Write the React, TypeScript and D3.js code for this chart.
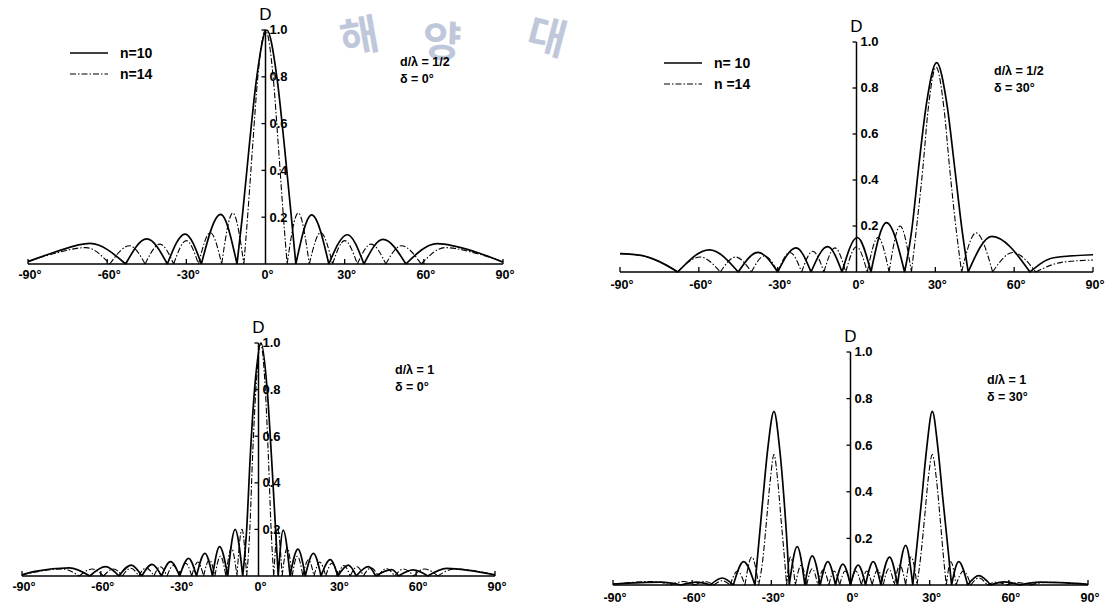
import React from "react";
import * as d3 from "d3";

type P = [number, number];

const angleTicks = [-90, -60, -30, 0, 30, 60, 90];
const dTicks = [0.2, 0.4, 0.6, 0.8, 1.0];
const legendNamesLeft = ["n=10", "n=14"];
const legendNamesRight = ["n= 10", "n =14"];

// Panel 1: d/λ = 1/2, δ = 0°
const tlN10: P[] = [
  [-90, 0.01], [-80, 0.05], [-66.5, 0.088], [-53, 0], [-45, 0.107], [-37.2, 0], [-30.5, 0.128], [-24.3, 0],
  [-17, 0.212], [-10.8, 0],
  [-8.8, 0.2], [-6.2, 0.5], [-3.3, 0.8], [0.5, 1.0], [4.3, 0.8], [7.2, 0.5], [9.8, 0.2], [11.5, 0],
  [17.5, 0.21], [24, 0], [31, 0.125], [37.3, 0], [44.5, 0.105], [53.2, 0], [65, 0.087], [80, 0.05], [90, 0.008],
];
const tlN14: P[] = [
  [-90, 0.01], [-80, 0.045], [-68, 0.07], [-59, 0], [-51.5, 0.078], [-45.6, 0], [-40, 0.085], [-34.8, 0],
  [-30, 0.1], [-25.4, 0], [-20.9, 0.134], [-16.6, 0], [-12.4, 0.218], [-8.2, 0],
  [-6.8, 0.2], [-4.9, 0.5], [-2.9, 0.8], [0, 1.0], [2.9, 0.8], [4.9, 0.5], [6.8, 0.2], [8.2, 0],
  [12.4, 0.218], [16.6, 0], [20.9, 0.134], [25.4, 0], [30, 0.1], [34.8, 0], [40, 0.085], [45.6, 0],
  [51.5, 0.078], [59, 0], [68, 0.07], [80, 0.045], [90, 0.01],
];

// Panel 2: d/λ = 1/2, δ = 30°
const trN10: P[] = [
  [-90, 0.08], [-82, 0.072], [-75, 0.045], [-68, 0], [-56, 0.096], [-45, 0], [-37.5, 0.085], [-30, 0],
  [-23, 0.105], [-17.3, 0], [-11, 0.11], [-5.5, 0], [0.3, 0.15], [5.5, 0], [11.4, 0.215], [18.3, 0],
  [21, 0.18], [23.6, 0.45], [26.6, 0.73], [30.5, 0.91], [34.4, 0.73], [37.4, 0.45], [40.2, 0.18], [42.5, 0],
  [51.5, 0.155], [66, 0], [75, 0.062], [90, 0.075],
];
const trN14: P[] = [
  [-90, 0.08], [-82, 0.072], [-75, 0.045], [-68.2, 0], [-59.5, 0.065], [-51.8, 0], [-46, 0.065], [-40, 0],
  [-35, 0.07], [-30, 0], [-25.3, 0.085], [-20.9, 0], [-16.6, 0.09], [-12.4, 0], [-8.2, 0.105], [-4.1, 0],
  [0, 0.11], [4.1, 0], [8.2, 0.15], [12.4, 0], [16.6, 0.2], [20.9, 0],
  [22.7, 0.178], [25.2, 0.445], [27.3, 0.71], [30.3, 0.89], [33.3, 0.71], [35.5, 0.445], [38, 0.178], [40, 0],
  [45.5, 0.17], [51.8, 0], [59.5, 0.085], [68.2, 0], [78, 0.042], [90, 0.052],
];

// Panel 3: d/λ = 1, δ = 0°
const blN10: P[] = [
  [-90, 0.005], [-85, 0.02], [-72, 0.035], [-64.2, 0], [-58.2, 0.04], [-53.1, 0], [-48.4, 0.047], [-44.4, 0],
  [-40.5, 0.05], [-36.9, 0], [-33.5, 0.062], [-30, 0], [-26.6, 0.076], [-23.6, 0], [-20.4, 0.097], [-17.5, 0],
  [-14.8, 0.126], [-11.7, 0], [-8.9, 0.2], [-6, 0],
  [-4.5, 0.2], [-3.2, 0.5], [-1.5, 0.8], [1, 1.0], [3.3, 0.8], [5, 0.5], [6.5, 0.2], [7.5, 0],
  [9.4, 0.197], [12, 0], [15, 0.115], [17.8, 0], [20.9, 0.097], [23.8, 0], [27.3, 0.07], [30.2, 0],
  [34.2, 0.047], [37.2, 0], [41.8, 0.04], [44.6, 0], [50.7, 0.027], [53.3, 0], [58.9, 0.026], [64.4, 0],
  [71.6, 0.033], [90, 0.005],
];
const blN14: P[] = [
  [-90, 0.005], [-74.6, 0.03], [-68.2, 0], [-63.2, 0.03], [-59, 0], [-55.2, 0.03], [-51.8, 0], [-48.6, 0.033],
  [-45.6, 0], [-42.8, 0.035], [-39.8, 0], [-37.4, 0.04], [-34.8, 0], [-32.4, 0.045], [-30, 0], [-27.7, 0.055],
  [-25.4, 0], [-23.1, 0.06], [-20.9, 0], [-18.7, 0.07], [-16.6, 0], [-14.5, 0.085], [-12.4, 0], [-10.3, 0.12],
  [-8.2, 0], [-6.3, 0.2], [-4.5, 0],
  [-3.3, 0.2], [-2.3, 0.5], [-1, 0.8], [0.8, 1.0], [2.6, 0.8], [3.8, 0.5], [4.8, 0.2], [5.8, 0],
  [7.3, 0.2], [9, 0], [10.9, 0.12], [12.8, 0], [14.8, 0.085], [16.9, 0], [19, 0.07], [21.1, 0],
  [23.3, 0.06], [25.6, 0], [27.9, 0.055], [30.1, 0], [32.5, 0.045], [34.9, 0], [37.5, 0.04], [39.9, 0],
  [42.8, 0.035], [45.6, 0], [48.6, 0.032], [51.8, 0], [55.2, 0.03], [59, 0], [63.2, 0.03], [68.2, 0],
  [74.6, 0.03], [90, 0.005],
];

// Panel 4: d/λ = 1, δ = 30°
const brN10: P[] = [
  [-90, 0.004], [-71.8, 0.012], [-64.2, 0], [-58.2, 0.012], [-53.1, 0], [-48.6, 0.03], [-44.4, 0],
  [-40.5, 0.1], [-36.2, 0],
  [-35, 0.15], [-33.2, 0.37], [-31.3, 0.59], [-29, 0.745], [-26.9, 0.59], [-25.2, 0.37], [-23.9, 0.15], [-23.2, 0],
  [-20.2, 0.165], [-17.3, 0], [-14.5, 0.125], [-11.5, 0], [-8.6, 0.1], [-5.7, 0], [-2.9, 0.09], [0, 0],
  [2.9, 0.085], [5.7, 0], [8.6, 0.1], [11.5, 0], [14.8, 0.12], [17.8, 0], [20.9, 0.17], [23.6, 0],
  [25, 0.15], [27, 0.37], [28.9, 0.59], [31, 0.745], [33.1, 0.59], [35, 0.37], [37, 0.15], [38.3, 0],
  [41, 0.1], [44.4, 0], [48.6, 0.04], [53.1, 0], [58.2, 0.013], [64.2, 0], [71.8, 0.012], [90, 0.003],
];
const brN14: P[] = [
  [-90, 0.004], [-74.6, 0.015], [-68.2, 0], [-63.2, 0.015], [-59, 0], [-55.2, 0.015], [-51.8, 0],
  [-48.6, 0.018], [-45.6, 0], [-42.8, 0.06], [-40, 0], [-37.4, 0.12], [-34.8, 0],
  [-33.2, 0.112], [-31.8, 0.28], [-30.4, 0.45], [-29, 0.56], [-27.6, 0.45], [-26.3, 0.28], [-25, 0.112], [-24.2, 0],
  [-22.8, 0.12], [-20.9, 0], [-18.7, 0.085], [-16.6, 0], [-14.5, 0.07], [-12.4, 0], [-10.3, 0.065], [-8.2, 0],
  [-6.2, 0.06], [-4.1, 0], [-2, 0.06], [0, 0], [2, 0.06], [4.1, 0], [6.2, 0.06], [8.2, 0], [10.3, 0.065],
  [12.4, 0], [14.5, 0.07], [16.6, 0], [18.7, 0.085], [20.9, 0], [23, 0.12], [25.2, 0],
  [26.5, 0.112], [28, 0.28], [29.4, 0.45], [31, 0.56], [32.6, 0.45], [34, 0.28], [35.3, 0.112], [36.3, 0],
  [38, 0.1], [40, 0], [42.8, 0.06], [45.6, 0], [48.6, 0.03], [51.8, 0], [55.2, 0.012], [59, 0],
  [63.2, 0.01], [68.2, 0], [74.6, 0.012], [90, 0.003],
];

const watermarkChars = ["해", "양", "대"];

function lobes(pts: P[]): P[][] {
  const out: P[][] = [];
  let cur: P[] = [pts[0]];
  for (let i = 1; i < pts.length; i++) {
    cur.push(pts[i]);
    if (pts[i][1] === 0 && i < pts.length - 1) {
      out.push(cur);
      cur = [pts[i]];
    }
  }
  out.push(cur);
  return out;
}

const FONT = "'Liberation Sans', Arial, sans-serif";
const DASH = "6,2,1.5,2";

type PanelProps = {
  xr: [number, number];
  yr: [number, number];
  n10: P[];
  n14: P[];
  ann: [string, string];
  annPos: [number, number];
  legend?: [number, number];
  legendNames?: string[];
  labelDy: number;
};

function Panel({ xr, yr, n10, n14, ann, annPos, legend, legendNames, labelDy }: PanelProps) {
  const x = d3.scaleLinear().domain([-90, 90]).range(xr);
  const y = d3.scaleLinear().domain([0, 1]).range(yr);
  const line = d3
    .line<P>()
    .x((d) => x(d[0]))
    .y((d) => y(d[1]))
    .curve(d3.curveMonotoneX);
  const path = (pts: P[]) => lobes(pts).map((l) => line(l) || "").join("");
  const x0 = x(0);
  const yb = y(0);
  return (
    <g>
      <line x1={x(-90)} x2={x(90)} y1={yb} y2={yb} stroke="#000" strokeWidth={1.6} />
      {angleTicks.map((a) => (
        <g key={a}>
          {a !== 0 && (
            <line x1={x(a)} x2={x(a)} y1={yb} y2={yb - 5} stroke="#000" strokeWidth={1.3} />
          )}
          <text
            x={x(a) + 2}
            y={yb + labelDy}
            textAnchor="middle"
            dominantBaseline="middle"
            fontFamily={FONT}
            fontWeight="bold"
            fontSize={12.5}
          >
            {`${a}°`}
          </text>
        </g>
      ))}
      <line x1={x0} x2={x0} y1={yb} y2={y(1)} stroke="#000" strokeWidth={1.5} />
      {dTicks.map((v) => (
        <g key={v}>
          <line x1={x0 - 4} x2={x0} y1={y(v)} y2={y(v)} stroke="#000" strokeWidth={1.3} />
          <text
            x={x0 + 4}
            y={y(v) + 1}
            dominantBaseline="middle"
            fontFamily={FONT}
            fontWeight="bold"
            fontSize={13}
          >
            {v.toFixed(1)}
          </text>
        </g>
      ))}
      <text
        x={x0}
        y={y(1) - 14}
        textAnchor="middle"
        dominantBaseline="middle"
        fontFamily={FONT}
        fontSize={17}
      >
        D
      </text>
      <path d={path(n10)} fill="none" stroke="#000" strokeWidth={1.7} />
      <path d={path(n14)} fill="none" stroke="#000" strokeWidth={1.1} strokeDasharray={DASH} />
      <text x={annPos[0]} y={annPos[1]} fontFamily={FONT} fontWeight="bold" fontSize={12.5}>
        {ann[0]}
      </text>
      <text x={annPos[0]} y={annPos[1] + 17} fontFamily={FONT} fontWeight="bold" fontSize={12.5}>
        {ann[1]}
      </text>
      {legend && legendNames && (
        <g>
          <line x1={legend[0]} x2={legend[0] + 38} y1={legend[1]} y2={legend[1]} stroke="#000" strokeWidth={1.5} />
          <line
            x1={legend[0]}
            x2={legend[0] + 38}
            y1={legend[1] + 21}
            y2={legend[1] + 21}
            stroke="#000"
            strokeWidth={1.1}
            strokeDasharray={DASH}
          />
          {legendNames.map((n, i) => (
            <text
              key={n}
              x={legend[0] + 50}
              y={legend[1] + 21 * i + 1}
              dominantBaseline="middle"
              fontFamily={FONT}
              fontWeight="bold"
              fontSize={14}
              style={{ whiteSpace: "pre" }}
            >
              {n}
            </text>
          ))}
        </g>
      )}
    </g>
  );
}

export default function App() {
  const wm: [number, number, number][] = [
    [360, 40, -10],
    [442, 45, 2],
    [546, 40, 15],
  ];
  return (
    <svg
      width={1113}
      height={609}
      viewBox="0 0 1113 609"
      style={{ position: "absolute", left: 0, top: 0, background: "#fff", display: "block" }}
    >
      <rect width={1113} height={609} fill="#fff" />
      <g fill="#bfc8db" fontFamily="'Noto Sans CJK KR', sans-serif" fontWeight="bold" fontSize={42}>
        {watermarkChars.map((c, i) => (
          <text
            key={c}
            x={wm[i][0]}
            y={wm[i][1]}
            textAnchor="middle"
            dominantBaseline="middle"
            transform={`rotate(${wm[i][2]} ${wm[i][0]} ${wm[i][1]})`}
          >
            {c}
          </text>
        ))}
      </g>
      <Panel
        xr={[28, 503]}
        yr={[264, 30]}
        n10={tlN10}
        n14={tlN14}
        ann={["d/λ = 1/2", "δ = 0°"]}
        annPos={[400, 66]}
        legend={[70, 53]}
        legendNames={legendNamesLeft}
        labelDy={12}
      />
      <Panel
        xr={[620, 1093]}
        yr={[272, 42]}
        n10={trN10}
        n14={trN14}
        ann={["d/λ = 1/2", "δ = 30°"]}
        annPos={[994, 75]}
        legend={[664, 63]}
        legendNames={legendNamesRight}
        labelDy={14}
      />
      <Panel
        xr={[22, 495]}
        yr={[576, 343]}
        n10={blN10}
        n14={blN14}
        ann={["d/λ = 1", "δ = 0°"]}
        annPos={[395, 374]}
        labelDy={12}
      />
      <Panel
        xr={[613, 1088]}
        yr={[585, 352]}
        n10={brN10}
        n14={brN14}
        ann={["d/λ = 1", "δ = 30°"]}
        annPos={[987, 384]}
        labelDy={14}
      />
    </svg>
  );
}
